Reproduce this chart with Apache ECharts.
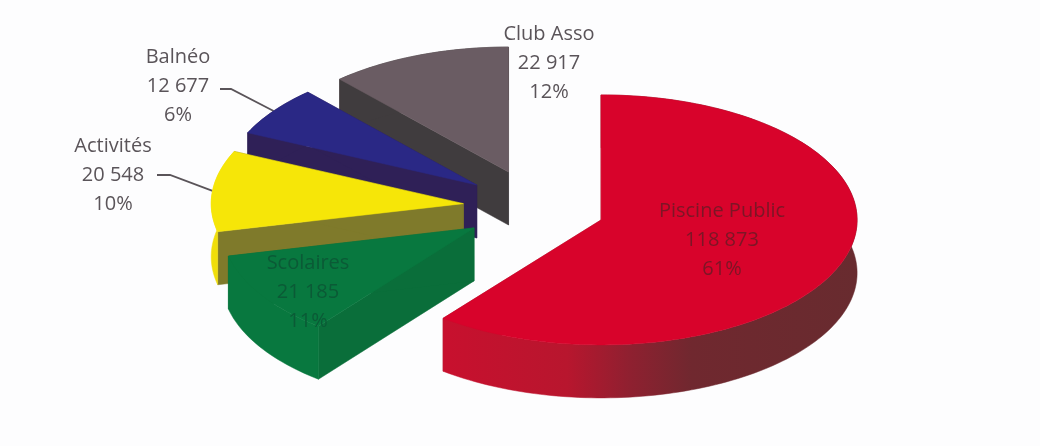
<!DOCTYPE html>
<html>
<head>
<meta charset="utf-8">
<script src="https://cdn.jsdelivr.net/npm/echarts@6/dist/echarts.min.js"></script>
<style>html,body{margin:0;padding:0;background:#fdfdfe}#c{width:1040px;height:446px}</style>
</head>
<body>
<div id="c"></div>
<script>
const categories = ["Piscine Public", "Scolaires", "Activités", "Balnéo", "Club Asso"];
const values = [118873, 21185, 20548, 12677, 22917];
const percentLabels = ["61%", "11%", "10%", "6%", "12%"];

// Pie projection (layout only)
const pie = { cx: 534, cy: 207.5, rx: 256, ry: 125, kx: 71, ky: 38, depth: 53 };
// Slices further from the viewer's right side shrink slightly (perspective)
const rxScale = [1.0, 0.985, 0.985, 0.985, 0.985];
const topColors = ["#d8032b", "#08783f", "#f6e608", "#2a2885", "#6a5c63"];
const radialColors = ["#a01f2e", "#0a6e3a", "#7f7a2b", "#2f2057", "#403c3e"];
const arcColors = [
  { type: "linear", x: 0, y: 0, x2: 1, y2: 0, colorStops: [
    { offset: 0, color: "#c8102e" }, { offset: 0.3, color: "#b8162e" },
    { offset: 0.45, color: "#8f2030" }, { offset: 0.6, color: "#70282f" }, { offset: 1, color: "#682b2f" } ] },
  "#08783f", "#f0de0a", "#2f2057", "#403c3e"
];
const labelLayout = [
  { x: 722, y: 240, color: "#7c1626" },
  { x: 308, y: 292, color: "#0b5a36" },
  { x: 113, y: 175, color: "#5a5459", elbow: [[157, 175], [170, 175]] },
  { x: 178, y: 86, color: "#5a5459", elbow: [[220, 89], [231, 89]] },
  { x: 549, y: 63, color: "#5a5459" }
];
// Paint order: back slices first
const zOrder = [5, 4, 3, 2, 1];

const total = values.reduce((a, b) => a + b, 0);

function fmt(v) { return String(v).replace(/\B(?=(\d{3})+$)/g, " "); }

function renderItem(params, api) {
  const i = params.dataIndex;
  const value = api.value(1);
  let before = 0;
  for (let k = 0; k < i; k++) before += values[k];
  const a0 = before / total * 2 * Math.PI;
  const a1 = (before + value) / total * 2 * Math.PI;
  const mid = (a0 + a1) / 2;
  const ax = pie.cx + pie.kx * Math.sin(mid);
  const ay = pie.cy - pie.ky * Math.cos(mid);
  const rx = pie.rx * rxScale[i];
  const at = a => [ax + rx * Math.sin(a), ay - pie.ry * Math.cos(a)];
  const down = p => [p[0], p[1] + pie.depth];
  const arc = [];
  const steps = Math.max(12, Math.round((a1 - a0) * 40));
  for (let s = 0; s <= steps; s++) arc.push(at(a0 + (a1 - a0) * s / steps));
  const apex = [ax, ay];
  const base = zOrder[i] * 10;
  const poly = (points, fill, z) => ({
    type: "polygon", z2: base + z, silent: true,
    shape: { points }, style: { fill, stroke: fill, lineWidth: 0.5 }
  });
  const children = [
    poly([apex, arc[0], down(arc[0]), down(apex)], radialColors[i], 0),
    poly([apex, arc[steps], down(arc[steps]), down(apex)], radialColors[i], 1),
    poly(arc.concat(arc.map(down).reverse()), arcColors[i], 2),
    poly([apex].concat(arc), topColors[i], 3)
  ];
  const lab = labelLayout[i];
  if (lab.elbow) {
    const m = at(mid);
    children.push({
      type: "polyline", z2: 5, silent: true,
      shape: { points: lab.elbow.concat([[m[0], m[1]]]) },
      style: { stroke: "#5a5459", lineWidth: 1.8, fill: "none" }
    });
  }
  children.push({
    type: "text", z2: 200, silent: true,
    style: {
      x: lab.x, y: lab.y, align: "center", verticalAlign: "middle",
      text: categories[i] + "\n" + fmt(value) + "\n" + percentLabels[i],
      fill: lab.color, font: '20px "Open Sans"', lineHeight: 29
    }
  });
  return { type: "group", children };
}

const chart = echarts.init(document.getElementById("c"));
chart.setOption({
  backgroundColor: "#fdfdfe",
  animation: false,
  series: [{
    type: "custom",
    coordinateSystem: "none",
    renderItem,
    data: categories.map((c, i) => [c, values[i]])
  }]
});
</script>
</body>
</html>
